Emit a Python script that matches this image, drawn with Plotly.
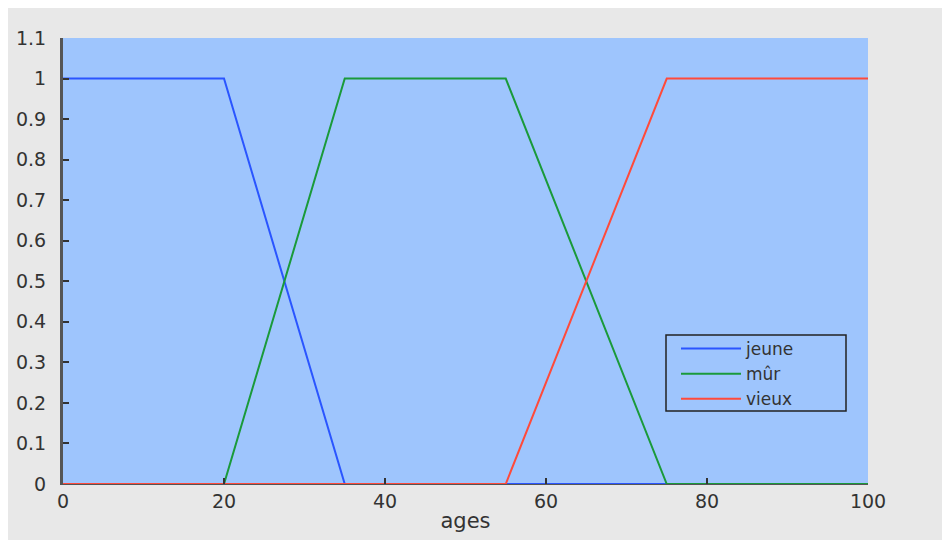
import plotly.graph_objects as go

ages = [0, 20, 35, 55, 75, 100]
jeune = [1, 1, 0, 0, 0, 0]
mur = [0, 0, 1, 1, 0, 0]
vieux = [0, 0, 0, 0, 1, 1]

series_names = ["jeune", "mûr", "vieux"]
series_values = [jeune, mur, vieux]
series_colors = ["#2a55ff", "#1a9a3a", "#ff4a3a"]

x_ticks = [0, 20, 40, 60, 80, 100]
y_ticks = [0, 0.1, 0.2, 0.3, 0.4, 0.5, 0.6, 0.7, 0.8, 0.9, 1, 1.1]
y_tick_labels = ["0", "0.1", "0.2", "0.3", "0.4", "0.5", "0.6", "0.7", "0.8", "0.9", "1", "1.1"]

fig = go.Figure()
for name, vals, col in zip(series_names, series_values, series_colors):
    fig.add_trace(go.Scatter(x=ages, y=vals, mode="lines", name=name,
                             line=dict(color=col, width=2)))

# page body has an 8px margin, so the figure is offset by 8px
OFF = 8
W, H = 950, 540
L, T = 63 - OFF, 38 - OFF
R = W - (868 - OFF)
B = H - (484 - OFF)
pw, ph = W - L - R, H - T - B

def px(xs):
    return (xs - OFF - L) / pw

def py(ys):
    return 1 - (ys - OFF - T) / ph

FONT = "DejaVu Sans, Liberation Sans, Arial, sans-serif"
BG = "#9ec5fd"

fig.update_layout(
    width=W, height=H,
    margin=dict(l=L, r=R, t=T, b=B, autoexpand=False),
    paper_bgcolor="#e8e8e8",
    plot_bgcolor=BG,
    font=dict(family=FONT, size=18, color="#333333"),
    showlegend=True,
    legend=dict(
        x=px(676), y=py(331), xanchor="left", yanchor="top",
        bgcolor="rgba(0,0,0,0)", borderwidth=0,
        font=dict(family=FONT, size=17, color="#333333"),
        itemwidth=60, tracegroupgap=0,
    ),
    shapes=[
        dict(type="rect", xref="paper", yref="paper",
             x0=px(666), x1=px(846), y0=py(411), y1=py(335),
             fillcolor=BG, line=dict(color="#222222", width=1.5), layer="below"),
    ],
    xaxis=dict(
        range=[0, 100], tickvals=x_ticks, ticktext=[str(v) for v in x_ticks],
        ticks="inside", ticklen=6, tickwidth=1.5, tickcolor="#333333",
        showgrid=False, zeroline=False, showline=True, linecolor="#555555", linewidth=1,
        tickfont=dict(family=FONT, size=19, color="#333333"),
        title=dict(text="ages", standoff=2, font=dict(family=FONT, size=21, color="#333333")),
        automargin=False, fixedrange=True,
    ),
    yaxis=dict(
        range=[0, 1.1], tickvals=y_ticks, ticktext=y_tick_labels,
        ticks="inside", ticklen=6, tickwidth=1.5, tickcolor="#333333",
        showgrid=False, zeroline=False, showline=True, linecolor="#555555", linewidth=3,
        tickfont=dict(family=FONT, size=19, color="#333333"),
        ticklabelstandoff=10,
        automargin=False, fixedrange=True,
    ),
)

fig.write_html("out.html")
